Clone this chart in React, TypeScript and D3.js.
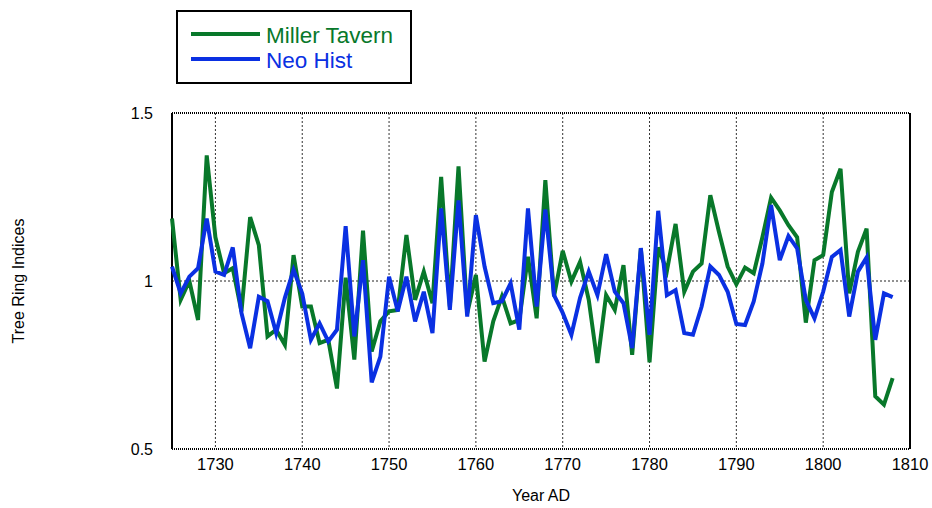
import * as d3 from "d3";
import React from "react";

const years = d3.range(1725, 1809);

const millerTavern = [
  1.186, 0.944, 1.0, 0.884, 1.374, 1.13, 1.023, 1.038, 0.91, 1.19,
  1.107, 0.835, 0.855, 0.81, 1.077, 0.924, 0.924, 0.815, 0.825, 0.68,
  1.01, 0.766, 1.15, 0.79, 0.88, 0.91, 0.914, 1.137, 0.944, 1.028,
  0.934, 1.31, 0.924, 1.341, 0.904, 1.018, 0.76, 0.88, 0.954, 0.874,
  0.884, 1.072, 0.889, 1.3, 0.954, 1.09, 0.998, 1.057, 0.944, 0.756,
  0.958, 0.914, 1.047, 0.78, 1.097, 0.758, 1.1, 1.03, 1.17, 0.968,
  1.028, 1.052, 1.255, 1.146, 1.043, 0.99, 1.04, 1.023, 1.13, 1.248,
  1.21, 1.166, 1.13, 0.876, 1.062, 1.077, 1.265, 1.334, 0.963, 1.087,
  1.156, 0.657, 0.632, 0.711,
];

const neoHist = [
  1.043, 0.963, 1.013, 1.038, 1.186, 1.028, 1.018, 1.1, 0.905, 0.8,
  0.953, 0.94, 0.845, 0.95, 1.033, 0.963, 0.825, 0.874, 0.82, 0.855,
  1.163, 0.835, 1.062, 0.698, 0.775, 1.013, 0.91, 1.013, 0.88, 0.968,
  0.845, 1.216, 0.914, 1.24, 0.894, 1.196, 1.043, 0.934, 0.94, 0.993,
  0.855, 1.216, 0.924, 1.213, 0.958, 0.905, 0.84, 0.95, 1.028, 0.958,
  1.08, 0.968, 0.934, 0.8, 1.098, 0.84, 1.209, 0.958, 0.973, 0.845,
  0.84, 0.924, 1.043, 1.018, 0.968, 0.872, 0.869, 0.939, 1.052, 1.226,
  1.062, 1.134, 1.097, 0.944, 0.889, 0.968, 1.072, 1.092, 0.894, 1.028,
  1.07, 0.825, 0.963, 0.952,
];

const xTicks = [1730, 1740, 1750, 1760, 1770, 1780, 1790, 1800, 1810];
const yTicks = [0.5, 1, 1.5];

const series = [
  { name: "Miller Tavern", values: millerTavern, color: "#08782a" },
  { name: "Neo Hist", values: neoHist, color: "#0a30e2" },
];

const width = 932;
const height = 508;
const plot = { left: 172, right: 910, top: 113, bottom: 449 };
const font = "Liberation Sans, Arial, sans-serif";

export default function App() {
  const x = d3.scaleLinear().domain([1725, 1810]).range([plot.left, plot.right]);
  const y = d3.scaleLinear().domain([0.5, 1.5]).range([plot.bottom, plot.top]);

  const line = (values: number[]) =>
    d3
      .line<number>()
      .x((_, i) => x(years[i]))
      .y((d) => y(d))(values);

  return (
    <svg
      width={width}
      height={height}
      style={{ position: "absolute", left: 0, top: 0, background: "#fff" }}
      fontFamily={font}
    >
      {/* grid */}
      {xTicks
        .filter((t) => t < 1810)
        .map((t) => (
          <line
            key={t}
            x1={x(t)}
            x2={x(t)}
            y1={plot.top}
            y2={plot.bottom}
            stroke="#333"
            strokeWidth={1}
            strokeDasharray="2,2"
          />
        ))}
      <line
        x1={plot.left}
        x2={plot.right}
        y1={y(1)}
        y2={y(1)}
        stroke="#222"
        strokeWidth={1}
        strokeDasharray="2,2"
      />

      {/* frame */}
      <line x1={plot.left} x2={plot.right} y1={plot.top} y2={plot.top} stroke="#000" strokeWidth={2} strokeDasharray="1,1" />
      <line x1={plot.left} x2={plot.right} y1={plot.bottom} y2={plot.bottom} stroke="#000" strokeWidth={2} strokeDasharray="1,1" />
      <line x1={plot.left} x2={plot.left} y1={plot.top} y2={plot.bottom} stroke="#000" strokeWidth={2} />
      <line x1={plot.right} x2={plot.right} y1={plot.top} y2={plot.bottom} stroke="#000" strokeWidth={2} />

      {/* series */}
      {series.map((s) => (
        <path
          key={s.name}
          d={line(s.values) ?? ""}
          fill="none"
          stroke={s.color}
          strokeWidth={4}
          strokeLinejoin="miter"
        />
      ))}

      {/* axes labels */}
      {yTicks.map((t) => (
        <text
          key={t}
          x={153}
          y={y(t)}
          textAnchor="end"
          dominantBaseline="central"
          fontSize={16}
          fill="#000"
        >
          {t}
        </text>
      ))}
      {xTicks.map((t) => (
        <text key={t} x={x(t)} y={470} textAnchor="middle" fontSize={16.5} fill="#000">
          {t}
        </text>
      ))}
      <text x={541} y={501} textAnchor="middle" fontSize={16} fill="#000">
        Year AD
      </text>
      <text
        transform={`translate(24,${(plot.top + plot.bottom) / 2}) rotate(-90)`}
        textAnchor="middle"
        fontSize={16}
        fill="#000"
      >
        Tree Ring Indices
      </text>

      {/* legend */}
      <rect x={177} y={11} width={234} height={72} fill="#fff" stroke="#000" strokeWidth={2} />
      {series.map((s, i) => (
        <g key={s.name}>
          <line x1={191} x2={260} y1={34 + i * 25} y2={34 + i * 25} stroke={s.color} strokeWidth={4} />
          <text x={266} y={43 + i * 25} fontSize={22.5} fill={s.color}>
            {s.name}
          </text>
        </g>
      ))}
    </svg>
  );
}
